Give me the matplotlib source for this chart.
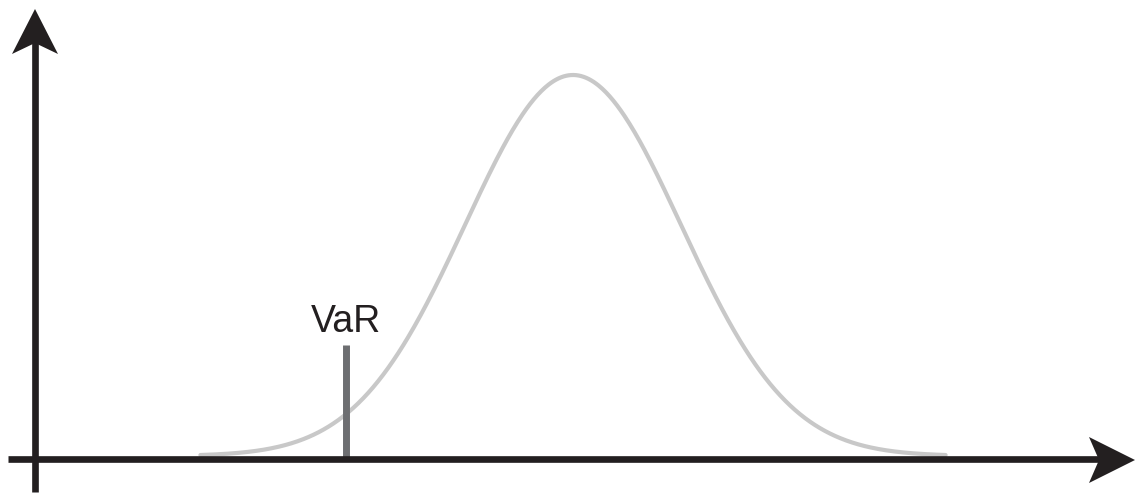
import numpy as np
import matplotlib
matplotlib.use("Agg")
import matplotlib.pyplot as plt
from matplotlib.patches import Polygon

# Data: standard normal distribution and VaR threshold (in sigma units)
z_range = [-3.45, 3.45]
var_level = -2.1
var_label = "VaR"

fig = plt.figure(figsize=(11.37, 4.95), dpi=100)
ax = fig.add_axes([0, 0, 1, 1])
ax.set_axis_off()

# pixel <-> data mapping chosen to reproduce layout
px_per_x = 108.0
x_center_px = 573.0
peak = 1 / np.sqrt(2 * np.pi)
px_per_y = 381.0 / peak
base_px = 456.0
W, H = 1137, 495
ax.set_xlim(-x_center_px / px_per_x, (W - x_center_px) / px_per_x)
ax.set_ylim(-(H - base_px) / px_per_y, base_px / px_per_y)

def X(px):
    return (px - x_center_px) / px_per_x
def Y(py):
    return (base_px - py) / px_per_y

z = np.linspace(z_range[0], z_range[1], 600)
pdf = np.exp(-z**2 / 2) / np.sqrt(2 * np.pi)
ax.plot(z, pdf, color="#c8c8c8", lw=3.0, solid_capstyle="round", zorder=2)

axis_col = "#231f20"
# x-axis
ax.plot([X(8), X(1100)], [Y(459), Y(459)], color=axis_col, lw=4.8, solid_capstyle="butt", zorder=3)
ax.add_patch(Polygon([(X(1135), Y(460)), (X(1089), Y(437)), (X(1099), Y(460)), (X(1089), Y(483))],
                     closed=True, color=axis_col, zorder=4, lw=0))
# y-axis
ax.plot([X(35), X(35)], [Y(492), Y(40)], color=axis_col, lw=4.8, solid_capstyle="butt", zorder=3)
ax.add_patch(Polygon([(X(35), Y(9)), (X(12), Y(54)), (X(35), Y(43)), (X(58), Y(54))],
                     closed=True, color=axis_col, zorder=4, lw=0))

# VaR line
ax.plot([var_level, var_level], [Y(459), Y(345)], color="#6d6e71", lw=5.0, solid_capstyle="butt", zorder=2.5)
ax.text(var_level, Y(340), var_label, ha="center", va="bottom", fontsize=27,
        family="Liberation Sans", color="#231f20")

fig.savefig("out.png", dpi=100)
